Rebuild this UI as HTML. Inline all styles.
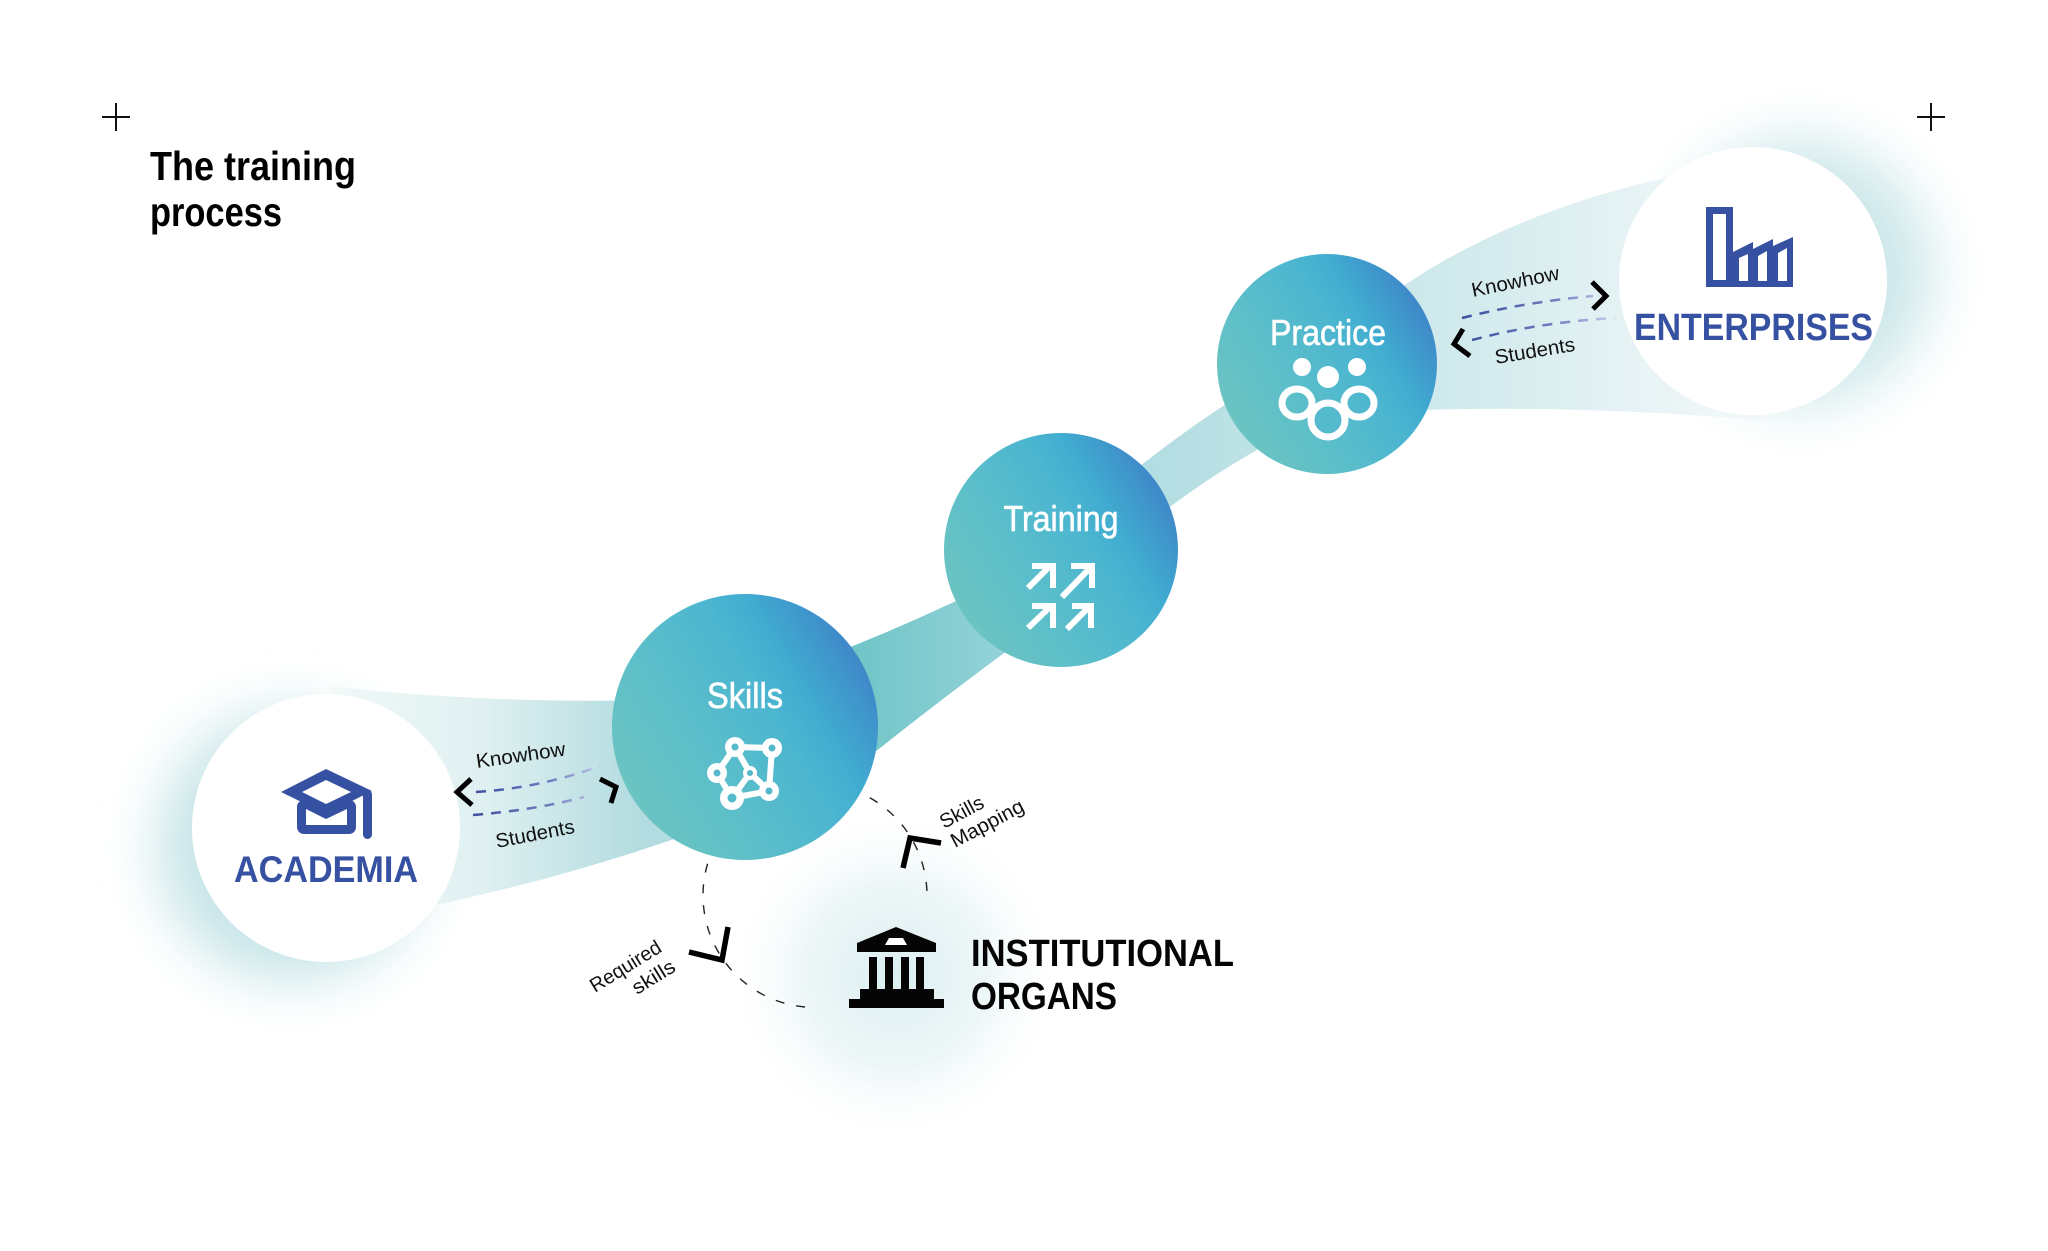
<!DOCTYPE html>
<html>
<head>
<meta charset="utf-8">
<style>
  html,body{margin:0;padding:0;background:#fff;}
  svg{display:block;}
  text{font-family:"Liberation Sans",Arial,sans-serif;}
</style>
</head>
<body>
<svg width="2048" height="1251" viewBox="0 0 2048 1251" xmlns="http://www.w3.org/2000/svg">
  <defs>
    <linearGradient id="cg" x1="0" y1="0.8" x2="1" y2="0.2">
      <stop offset="0" stop-color="#6ec6c0"/>
      <stop offset="0.13" stop-color="#67c2c3"/>
      <stop offset="0.28" stop-color="#5fc0c8"/>
      <stop offset="0.6" stop-color="#4cb6d0"/>
      <stop offset="0.72" stop-color="#40acd0"/>
      <stop offset="0.87" stop-color="#3f93cb"/>
      <stop offset="0.93" stop-color="#3f87c8"/>
      <stop offset="1" stop-color="#4080c6"/>
    </linearGradient>
    <linearGradient id="bandL" gradientUnits="userSpaceOnUse" x1="330" y1="0" x2="640" y2="0">
      <stop offset="0" stop-color="#f1f8f8"/>
      <stop offset="0.5" stop-color="#dff0f1"/>
      <stop offset="1" stop-color="#b3dce0"/>
    </linearGradient>
    <linearGradient id="bandM" gradientUnits="userSpaceOnUse" x1="840" y1="0" x2="1000" y2="0">
      <stop offset="0" stop-color="#6cc4c5"/>
      <stop offset="1" stop-color="#93d2d9"/>
    </linearGradient>
    <linearGradient id="bandU" gradientUnits="userSpaceOnUse" x1="1130" y1="0" x2="1270" y2="0">
      <stop offset="0" stop-color="#b0dce1"/>
      <stop offset="1" stop-color="#bfe3e6"/>
    </linearGradient>
    <linearGradient id="bandR" gradientUnits="userSpaceOnUse" x1="1420" y1="0" x2="1720" y2="0">
      <stop offset="0" stop-color="#cde8eb"/>
      <stop offset="1" stop-color="#f0f7f8"/>
    </linearGradient>
    <linearGradient id="dashL" gradientUnits="userSpaceOnUse" x1="470" y1="0" x2="605" y2="0">
      <stop offset="0" stop-color="#3a4f9f"/>
      <stop offset="0.6" stop-color="#6f7cc0"/>
      <stop offset="1" stop-color="#cdd0ec"/>
    </linearGradient>
    <linearGradient id="dashR" gradientUnits="userSpaceOnUse" x1="1460" y1="0" x2="1620" y2="0">
      <stop offset="0" stop-color="#3a4f9f"/>
      <stop offset="0.6" stop-color="#6f7cc0"/>
      <stop offset="1" stop-color="#d5d8ef"/>
    </linearGradient>
    <radialGradient id="instGlow" cx="0.5" cy="0.5" r="0.5">
      <stop offset="0" stop-color="#dcEEF1"/>
      <stop offset="0.55" stop-color="#eef7f8"/>
      <stop offset="1" stop-color="#ffffff" stop-opacity="0"/>
    </radialGradient>
    <filter id="blur" x="-60%" y="-60%" width="220%" height="220%">
      <feGaussianBlur stdDeviation="28"/>
    </filter>
  </defs>

  <!-- plus marks -->
  <g stroke="#111" stroke-width="2">
    <line x1="102" y1="117" x2="130" y2="117"/>
    <line x1="116" y1="103" x2="116" y2="131"/>
    <line x1="1917" y1="117" x2="1945" y2="117"/>
    <line x1="1931" y1="103" x2="1931" y2="131"/>
  </g>

  <!-- title -->
  <text x="150" y="180" font-size="41" font-weight="bold" fill="#000" textLength="206" lengthAdjust="spacingAndGlyphs">The training</text>
  <text x="150" y="226" font-size="41" font-weight="bold" fill="#000" textLength="132" lengthAdjust="spacingAndGlyphs">process</text>

  <!-- glows -->
  <circle cx="292" cy="846" r="134" fill="#c6e4e7" filter="url(#blur)"/>
  <circle cx="1800" cy="272" r="132" fill="#cde7ea" filter="url(#blur)"/>
  <circle cx="895" cy="975" r="170" fill="url(#instGlow)"/>

  <!-- bands -->
  <path d="M 330,686 Q 480,704 660,700 L 700,830 Q 560,880 420,908 Z" fill="url(#bandL)"/>
  <path d="M 830,655 Q 900,628 975,592 L 1015,645 Q 940,700 865,760 Z" fill="url(#bandM)"/>
  <path d="M 1120,482 Q 1180,433 1240,395 L 1275,440 Q 1210,475 1150,522 Z" fill="url(#bandU)"/>
  <path d="M 1390,295 Q 1510,210 1680,175 L 1760,420 Q 1580,405 1420,410 Z" fill="url(#bandR)"/>

  <!-- dashed cycle -->
  <path d="M 805,1007 A 112 112 0 1 1 927,894" fill="none" stroke="#222" stroke-width="1.4" stroke-dasharray="9 12"/>

  <!-- white node circles -->
  <circle cx="326" cy="828" r="134" fill="#fff"/>
  <circle cx="1753" cy="281" r="134" fill="#fff"/>

  <!-- process circles -->
  <circle cx="745" cy="727" r="133" fill="url(#cg)"/>
  <circle cx="1061" cy="550" r="117" fill="url(#cg)"/>
  <circle cx="1327" cy="364" r="110" fill="url(#cg)"/>

  <!-- circle labels -->
  <g fill="#fff" font-size="36" text-anchor="middle" stroke="#fff" stroke-width="0.6">
    <text x="745" y="708" textLength="76" lengthAdjust="spacingAndGlyphs">Skills</text>
    <text x="1061" y="531" textLength="115" lengthAdjust="spacingAndGlyphs">Training</text>
    <text x="1328" y="345" textLength="116" lengthAdjust="spacingAndGlyphs">Practice</text>
  </g>

  <!-- skills molecule icon -->
  <g stroke="#fff" stroke-width="6" fill="none" stroke-linecap="round">
    <line x1="735" y1="747" x2="772" y2="748"/>
    <line x1="772" y1="748" x2="769" y2="791"/>
    <line x1="769" y1="791" x2="732" y2="798"/>
    <line x1="732" y1="798" x2="717" y2="773"/>
    <line x1="717" y1="773" x2="735" y2="747"/>
    <line x1="735" y1="747" x2="750" y2="773"/>
    <line x1="750" y1="773" x2="769" y2="791"/>
    <line x1="750" y1="773" x2="732" y2="798"/>
  </g>
  <g fill="#fff">
    <circle cx="735" cy="747" r="10"/>
    <circle cx="772" cy="748" r="10"/>
    <circle cx="717" cy="773" r="10"/>
    <circle cx="750" cy="773" r="7"/>
    <circle cx="769" cy="791" r="10"/>
    <circle cx="732" cy="798" r="12"/>
  </g>
  <g fill="#55b9cc">
    <circle cx="735" cy="747" r="3.5"/>
    <circle cx="772" cy="748" r="3.5"/>
    <circle cx="717" cy="773" r="3.5"/>
    <circle cx="750" cy="773" r="3"/>
    <circle cx="769" cy="791" r="3.5"/>
    <circle cx="732" cy="798" r="4.5"/>
  </g>

  <!-- training arrows -->
  <g stroke="#fff" stroke-width="6" fill="none" stroke-linecap="butt" stroke-linejoin="miter">
    <line x1="1028" y1="588" x2="1050" y2="566"/>
    <polyline points="1032,566 1053,566 1053,588"/>
    <line x1="1062" y1="597" x2="1089" y2="569"/>
    <polyline points="1071,566 1092,566 1092,588"/>
    <line x1="1028" y1="628" x2="1050" y2="607"/>
    <polyline points="1032,606 1053,606 1053,628"/>
    <line x1="1067" y1="629" x2="1088" y2="608"/>
    <polyline points="1072,606 1091,606 1091,628"/>
  </g>

  <!-- practice people icon -->
  <g fill="#fff">
    <circle cx="1302" cy="367" r="9"/>
    <circle cx="1328" cy="377" r="11"/>
    <circle cx="1357" cy="367" r="9"/>
  </g>
  <g fill="none" stroke="#fff" stroke-width="7">
    <ellipse cx="1297" cy="403" rx="15" ry="14"/>
    <ellipse cx="1359" cy="403" rx="15" ry="14"/>
  </g>
  <circle cx="1328" cy="420" r="17" fill="#55bacc" stroke="#fff" stroke-width="7"/>

  <!-- academia icon -->
  <g fill="#3651a1">
    <polygon points="281,792 326,769 372,791 326,814"/>
    <rect x="297" y="800" width="59" height="34" rx="7"/>
    <rect x="363" y="790" width="9" height="49" rx="4.5"/>
  </g>
  <polygon points="302,792 326,780 351,792 326,804" fill="#fff"/>
  <polygon points="306,809 326,819 347,809 347,825 306,825" fill="#fff"/>
  <text x="234" y="882" font-size="37" font-weight="bold" fill="#3651a1" textLength="184" lengthAdjust="spacingAndGlyphs">ACADEMIA</text>

  <!-- enterprises icon -->
  <g fill="#3651a1">
    <rect x="1706" y="207" width="27" height="80"/>
    <polygon points="1733,287 1733,252 1753,242 1753,249 1773,239 1773,246 1793,237 1793,287"/>
  </g>
  <g fill="#fff">
    <rect x="1713" y="214" width="13" height="66"/>
    <polygon points="1739,258 1748,254 1748,281 1739,281"/>
    <polygon points="1758,256 1767,251 1767,281 1758,281"/>
    <polygon points="1778,253 1787,248 1787,281 1778,281"/>
  </g>
  <text x="1634" y="340" font-size="38" font-weight="bold" fill="#3651a1" textLength="239" lengthAdjust="spacingAndGlyphs">ENTERPRISES</text>

  <!-- institution icon -->
  <g fill="#050505">
    <polygon points="857,943 896,927 936,943 936,952 857,952"/>
    <rect x="869" y="957" width="8" height="33"/>
    <rect x="885" y="957" width="8" height="33"/>
    <rect x="901" y="957" width="8" height="33"/>
    <rect x="916" y="957" width="8" height="33"/>
    <rect x="860" y="989" width="74" height="11"/>
    <rect x="849" y="999" width="95" height="9"/>
  </g>
  <polygon points="885,945 889,938 903,938 907,945" fill="#fff"/>
  <text x="971" y="966" font-size="38" font-weight="bold" fill="#050505" textLength="263" lengthAdjust="spacingAndGlyphs">INSTITUTIONAL</text>
  <text x="971" y="1009" font-size="38" font-weight="bold" fill="#050505" textLength="146" lengthAdjust="spacingAndGlyphs">ORGANS</text>

  <!-- left exchange -->
  <path d="M 476,792 Q 540,788 600,766" fill="none" stroke="url(#dashL)" stroke-width="2.5" stroke-dasharray="10 8"/>
  <path d="M 473,815 Q 535,810 584,797" fill="none" stroke="url(#dashL)" stroke-width="2.5" stroke-dasharray="10 8"/>
  <g fill="none" stroke="#000" stroke-width="5" stroke-linejoin="miter">
    <polyline points="471,779 457,792 472,805"/>
    <polyline points="600,779 616,787 611,803"/>
  </g>
  <text transform="translate(477,768) rotate(-8)" font-size="20" fill="#111" textLength="90" lengthAdjust="spacingAndGlyphs">Knowhow</text>
  <text transform="translate(497,848) rotate(-11)" font-size="20" fill="#111" textLength="80" lengthAdjust="spacingAndGlyphs">Students</text>

  <!-- right exchange -->
  <path d="M 1462,318 Q 1525,302 1593,296" fill="none" stroke="url(#dashR)" stroke-width="2.5" stroke-dasharray="10 8"/>
  <path d="M 1472,340 Q 1540,322 1615,318" fill="none" stroke="url(#dashR)" stroke-width="2.5" stroke-dasharray="10 8"/>
  <g fill="none" stroke="#000" stroke-width="5" stroke-linejoin="miter">
    <polyline points="1592,282 1606,296 1593,309"/>
    <polyline points="1463,329 1454,344 1470,356"/>
  </g>
  <text transform="translate(1473,297) rotate(-11.5)" font-size="20" fill="#111" textLength="89" lengthAdjust="spacingAndGlyphs">Knowhow</text>
  <text transform="translate(1496,364) rotate(-9.5)" font-size="20" fill="#111" textLength="81" lengthAdjust="spacingAndGlyphs">Students</text>

  <!-- cycle arrowheads -->
  <g fill="none" stroke="#000" stroke-width="5.5" stroke-linejoin="miter">
    <polyline points="689,952 722,960 728,927"/>
    <polyline points="903,868 910,838 941,843"/>
  </g>
  <text transform="translate(595,993) rotate(-31.7)" font-size="20" fill="#111" textLength="80" lengthAdjust="spacingAndGlyphs">Required</text>
  <text transform="translate(637,995) rotate(-31.7)" font-size="20" fill="#111" textLength="47" lengthAdjust="spacingAndGlyphs">skills</text>
  <text transform="translate(944,829) rotate(-28)" font-size="20" fill="#111" textLength="47" lengthAdjust="spacingAndGlyphs">Skills</text>
  <text transform="translate(955,848) rotate(-28)" font-size="20" fill="#111" textLength="80" lengthAdjust="spacingAndGlyphs">Mapping</text>
</svg>
</body>
</html>
